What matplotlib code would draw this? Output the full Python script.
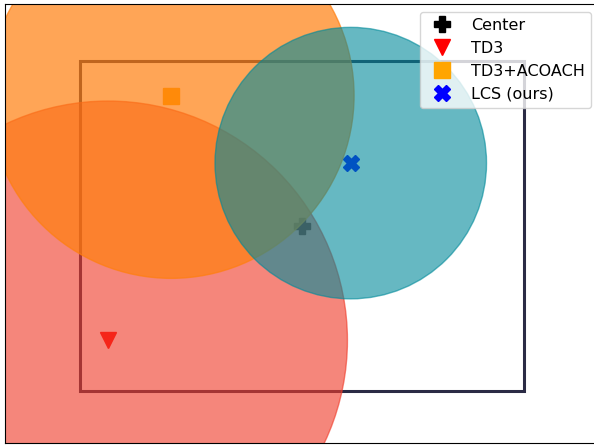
import numpy as np
import matplotlib.pyplot as plt
from matplotlib.patches import Circle, Rectangle

# target region (centered on origin)
center = (0.0, 0.0)
box_w, box_h = 4.0, 2.98

# method results: mean position and spread radius
methods = ['TD3', 'TD3+ACOACH', 'LCS (ours)']
means_x = [-1.75, -1.18, 0.44]
means_y = [-1.03, 1.18, 0.57]
radii = [2.16, 1.65, 1.225]
markers = ['v', 's', 'X']
marker_colors = ['red', 'orange', 'blue']
circle_colors = ['#f03c2a', '#ff7f0e', '#008a9a']
circle_alpha = [0.62, 0.7, 0.6]

fig = plt.figure(figsize=(5.94, 4.46), dpi=100)
ax = fig.add_axes([5 / 594, 2 / 446, 594 / 594, 441 / 446])

ax.plot(*center, 'P', color='black', markersize=12, label='Center', zorder=1)
for m, x, y, mk, c in zip(methods, means_x, means_y, markers, marker_colors):
    ax.plot(x, y, mk, color=c, markersize=12, label=m, zorder=1)

ax.add_patch(Rectangle((center[0] - box_w / 2, center[1] - box_h / 2), box_w, box_h,
                       fill=False, edgecolor='#2b2b45', linewidth=2.2, zorder=0.5))

for x, y, r, c, a in zip(means_x, means_y, radii, circle_colors, circle_alpha):
    ax.add_patch(Circle((x, y), r, facecolor=c, edgecolor=c, alpha=a, linewidth=1, zorder=2))

ax.set_xlim(-2.68, 2.68)
ax.set_ylim(-1.96, 2.01)
ax.set_aspect('equal')
ax.set_xticks([])
ax.set_yticks([])

leg = ax.legend(loc='upper right', fontsize=11.5)
leg.set_zorder(5)

fig.savefig('out.png', dpi=100)
